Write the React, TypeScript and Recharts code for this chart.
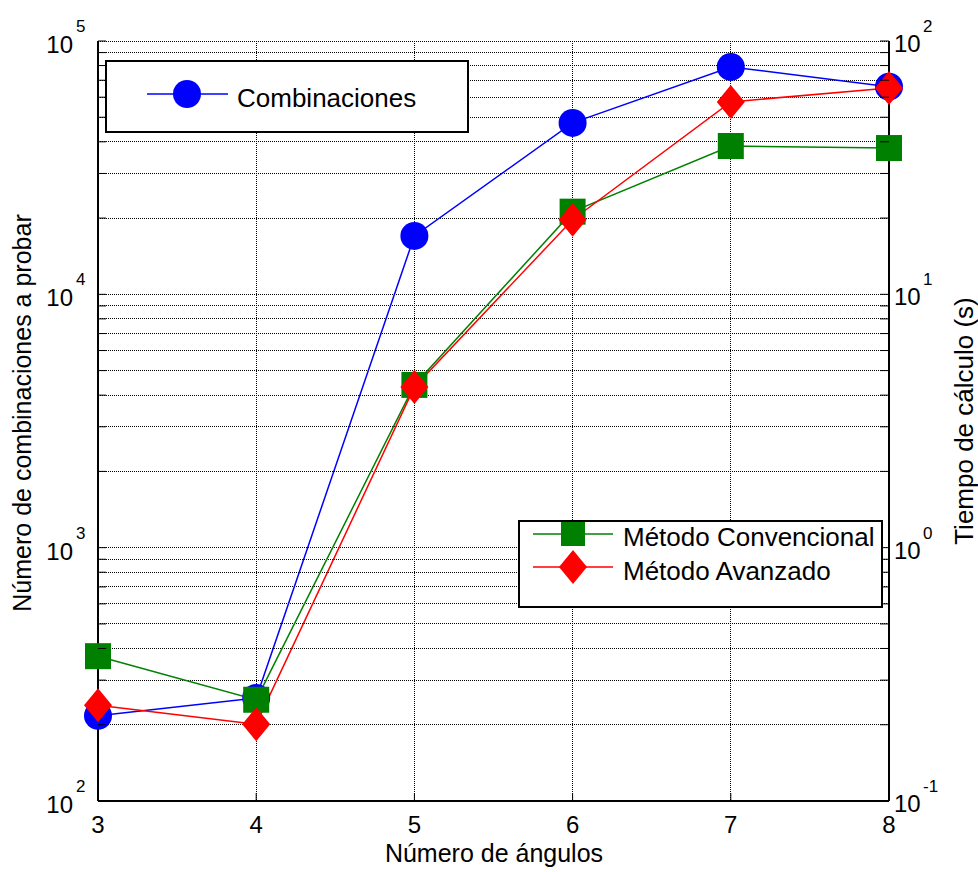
import { ComposedChart, Line, XAxis, YAxis, CartesianGrid } from "recharts"

const FONT = '"Liberation Sans", Arial, Helvetica, sans-serif'

// x: número de ángulos
const ANGULOS = [3, 4, 5, 6, 7, 8]
// left axis: combinaciones a probar
const COMBINACIONES = [217, 255, 17000, 47500, 79000, 66000]
// right axis: tiempo de cálculo (s)
const CONVENCIONAL = [0.373, 0.251, 4.39, 21.2, 38.5, 37.8]
const AVANZADO = [0.239, 0.201, 4.31, 19.7, 57.5, 65.3]

const X_TICKS = [3, 4, 5, 6, 7, 8]
const LEFT_TICKS = [
  100, 200, 300, 400, 500, 600, 700, 800, 900,
  1000, 2000, 3000, 4000, 5000, 6000, 7000, 8000, 9000,
  10000, 20000, 30000, 40000, 50000, 60000, 70000, 80000, 90000,
  100000,
]
const RIGHT_TICKS = [
  0.1, 0.2, 0.3, 0.4, 0.5, 0.6, 0.7, 0.8, 0.9,
  1, 2, 3, 4, 5, 6, 7, 8, 9,
  10, 20, 30, 40, 50, 60, 70, 80, 90,
  100,
]

const data = ANGULOS.map((x, i) => ({
  x,
  comb: COMBINACIONES[i],
  conv: CONVENCIONAL[i],
  avz: AVANZADO[i],
}))

function decade(v: number) {
  const e = Math.log10(v)
  return Math.abs(e - Math.round(e)) < 1e-6 ? Math.round(e) : null
}

function LeftTick(props: any) {
  const { x, y, payload } = props
  const e = decade(payload.value)
  return (
    <g>
      <line x1={x} x2={x + 8} y1={y} y2={y} stroke="#000" strokeWidth={1} />
      {e !== null && (
        <>
          <text x={x - 25} y={y + 12} textAnchor="end" fontSize={24} fontFamily={FONT} fill="#000">10</text>
          <text x={x - 22} y={y - 9} fontSize={17} fontFamily={FONT} fill="#000">{e}</text>
        </>
      )}
    </g>
  )
}

function RightTick(props: any) {
  const { x, y, payload } = props
  const e = decade(payload.value)
  return (
    <g>
      <line x1={x} x2={x - 9} y1={y} y2={y} stroke="#000" strokeWidth={1} />
      {e !== null && (
        <>
          <text x={x + 5} y={y + 11} fontSize={24} fontFamily={FONT} fill="#000">10</text>
          <text x={x + 34} y={y - 9} fontSize={17} fontFamily={FONT} fill="#000">{e}</text>
        </>
      )}
    </g>
  )
}

function BottomTick(props: any) {
  const { x, y, payload } = props
  return (
    <g>
      <line x1={x} x2={x} y1={y} y2={y - 8} stroke="#000" strokeWidth={1} />
      <text x={x} y={y + 32} textAnchor="middle" fontSize={24} fontFamily={FONT} fill="#000">
        {payload.value}
      </text>
    </g>
  )
}

const squareDot = (p: any) => (
  <rect key={`sq-${p.index}`} x={p.cx - 13} y={p.cy - 13} width={26} height={26} fill="#008000" />
)

const diamondDot = (p: any) => (
  <polygon
    key={`dm-${p.index}`}
    points={`${p.cx},${p.cy - 17} ${p.cx + 14},${p.cy} ${p.cx},${p.cy + 17} ${p.cx - 14},${p.cy}`}
    fill="#ff0000"
  />
)

export default function App() {
  return (
    <div style={{ position: "absolute", left: 0, top: 0, width: 978, height: 872, background: "#fff" }}>
      <ComposedChart
        width={978}
        height={872}
        data={data}
        margin={{ top: 41, right: 0, bottom: 0, left: 0 }}
      >
        <CartesianGrid
          yAxisId="left"
          stroke="#000"
          strokeDasharray="1 1"
          shapeRendering="crispEdges"
        />
        <XAxis
          dataKey="x"
          type="number"
          domain={[3, 8]}
          ticks={X_TICKS}
          interval={0}
          height={71}
          tickSize={0}
          tickMargin={0}
          tickLine={false}
          axisLine={{ stroke: "#000", strokeWidth: 2 }}
          tick={<BottomTick />}
        />
        <YAxis
          yAxisId="left"
          scale="log"
          type="number"
          domain={[100, 100000]}
          ticks={LEFT_TICKS}
          interval={0}
          width={98}
          tickSize={0}
          tickMargin={0}
          tickLine={false}
          axisLine={{ stroke: "#000", strokeWidth: 2 }}
          tick={<LeftTick />}
        />
        <YAxis
          yAxisId="right"
          orientation="right"
          scale="log"
          type="number"
          domain={[0.1, 100]}
          ticks={RIGHT_TICKS}
          interval={0}
          width={89}
          tickSize={0}
          tickMargin={0}
          tickLine={false}
          axisLine={{ stroke: "#000", strokeWidth: 2 }}
          tick={<RightTick />}
        />
        <Line
          yAxisId="left"
          dataKey="comb"
          type="linear"
          stroke="#0000ff"
          strokeWidth={1.5}
          dot={{ r: 14, fill: "#0000ff", stroke: "#0000ff", strokeWidth: 0 }}
          activeDot={false}
          isAnimationActive={false}
        />
        <Line
          yAxisId="right"
          dataKey="conv"
          type="linear"
          stroke="#008000"
          strokeWidth={1.5}
          dot={squareDot}
          activeDot={false}
          isAnimationActive={false}
        />
        <Line
          yAxisId="right"
          dataKey="avz"
          type="linear"
          stroke="#ff0000"
          strokeWidth={1.5}
          dot={diamondDot}
          activeDot={false}
          isAnimationActive={false}
        />
      </ComposedChart>

      <svg
        width={978}
        height={872}
        style={{ position: "absolute", left: 0, top: 0, pointerEvents: "none" }}
        fontFamily={FONT}
      >
        {/* legend: combinaciones */}
        <rect x={106} y={61} width={362} height={71} fill="#fff" stroke="#000" strokeWidth={2} />
        <line x1={147} x2={228} y1={94} y2={94} stroke="#0000ff" strokeWidth={1.5} />
        <circle cx={187} cy={94} r={14} fill="#0000ff" />
        <text x={237} y={107} fontSize={26} fill="#000">Combinaciones</text>

        {/* legend: métodos */}
        <rect x={519} y={521} width={363} height={86} fill="#fff" stroke="#000" strokeWidth={2} />
        <line x1={533} x2={613} y1={534} y2={534} stroke="#008000" strokeWidth={1.5} />
        <rect x={561} y={522} width={24} height={24} fill="#008000" />
        <text x={623} y={546} fontSize={26} fill="#000">Método Convencional</text>
        <line x1={533} x2={613} y1={567} y2={567} stroke="#ff0000" strokeWidth={1.5} />
        <polygon points="573,550 587,567 573,584 559,567" fill="#ff0000" />
        <text x={623} y={580} fontSize={26} fill="#000">Método Avanzado</text>

        {/* axis titles */}
        <text x={494} y={862} textAnchor="middle" fontSize={25} fill="#000">Número de ángulos</text>
        <text
          x={31}
          y={413}
          textAnchor="middle"
          fontSize={25}
          fill="#000"
          transform="rotate(-90 31 413)"
        >
          Número de combinaciones a probar
        </text>
        <text
          x={973}
          y={421}
          textAnchor="middle"
          fontSize={26}
          fill="#000"
          transform="rotate(-90 973 421)"
        >
          Tiempo de cálculo (s)
        </text>
      </svg>
    </div>
  )
}
